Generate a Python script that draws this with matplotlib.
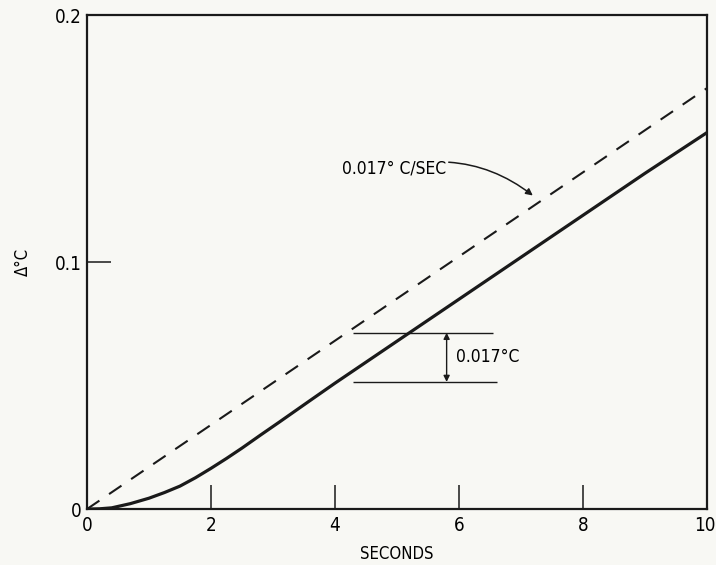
import matplotlib.pyplot as plt

# values
t_dash = [0, 10]
dT_dash = [0, 0.1705]

t_solid = [0, 0.2, 0.4, 0.7, 1.0, 1.25, 1.5, 1.75, 2.0, 2.25, 2.5, 2.8, 3.1, 3.6, 4.0, 5.0, 6.0, 7.0, 8.0, 9.0, 10.0]
dT_solid = [0, 0.0001, 0.0005, 0.0022, 0.0044, 0.0067, 0.0093, 0.0127, 0.0165, 0.0205, 0.0247, 0.0300, 0.0352, 0.0440, 0.0510,
            0.0680, 0.0850, 0.1020, 0.1190, 0.1360, 0.1525]

x_ticks = [0, 2, 4, 6, 8, 10]
y_ticks = [0, 0.1, 0.2]
y_ticklabels = ['0', '0.1', '0.2']

# offset marker (upper / lower level of the 0.017 C bracket)
band_hi = 0.0714
band_lo = 0.0515

plt.rcParams['font.family'] = ['DejaVu Sans']
plt.rcParams['font.stretch'] = 'condensed'
plt.rcParams['font.size'] = 13

fig = plt.figure(figsize=(7.16, 5.65), dpi=100)
fig.patch.set_facecolor('#f8f8f4')
ax = fig.add_axes([0.1215, 0.099, 0.866, 0.874])
ax.set_facecolor('#f8f8f4')

ax.plot(t_solid, dT_solid, color='#1a1a1a', lw=2.3, solid_capstyle='round')
ax.plot(t_dash, dT_dash, color='#1a1a1a', lw=1.5, dashes=(7.2, 5.6))

ax.set_xlim(0, 10)
ax.set_ylim(0, 0.2)

# the last x label ("10") is drawn by hand so it can sit flush with the edge
ax.set_xticks(x_ticks)
ax.set_xticklabels([str(v) for v in x_ticks[:-1]] + [''])
ax.set_yticks(y_ticks)
ax.set_yticklabels(y_ticklabels)
ax.tick_params(axis='both', direction='in', length=17, width=1.1, color='#1a1a1a', labelsize=13.5)
ax.tick_params(axis='x', pad=5)
ax.tick_params(axis='y', pad=4)
ax.annotate(str(x_ticks[-1]), xy=(x_ticks[-1], 0), xycoords='data',
            xytext=(6, -5), textcoords='offset points',
            ha='right', va='top', fontsize=13.5, annotation_clip=False)

for s in ax.spines.values():
    s.set_linewidth(1.6)
    s.set_color('#1a1a1a')

ax.set_xlabel('SECONDS', fontsize=12, labelpad=7)
ax.set_ylabel('Δ°C', fontsize=12, labelpad=16)

# bracket showing the lag
ax.hlines(band_hi, 4.29, 6.55, color='#1a1a1a', lw=1.0)
ax.hlines(band_lo, 4.29, 6.61, color='#1a1a1a', lw=1.0)
ax.annotate('', xy=(5.8, band_lo), xytext=(5.8, band_hi),
            arrowprops=dict(arrowstyle='<|-|>', color='#1a1a1a', lw=1.0,
                            mutation_scale=9, shrinkA=0, shrinkB=0))
ax.text(5.95, (band_hi + band_lo) / 2, '0.017°C', fontsize=12.5, va='center', ha='left')

# slope label
ax.annotate('0.017° C/SEC', xy=(7.19, 0.127), xytext=(4.11, 0.138),
            fontsize=12.5, va='center', ha='left',
            arrowprops=dict(arrowstyle='-|>', color='#1a1a1a', lw=1.1,
                            mutation_scale=10, shrinkA=0, shrinkB=0,
                            connectionstyle='arc3,rad=-0.25'))

fig.savefig('out.png', dpi=100, facecolor=fig.get_facecolor())
